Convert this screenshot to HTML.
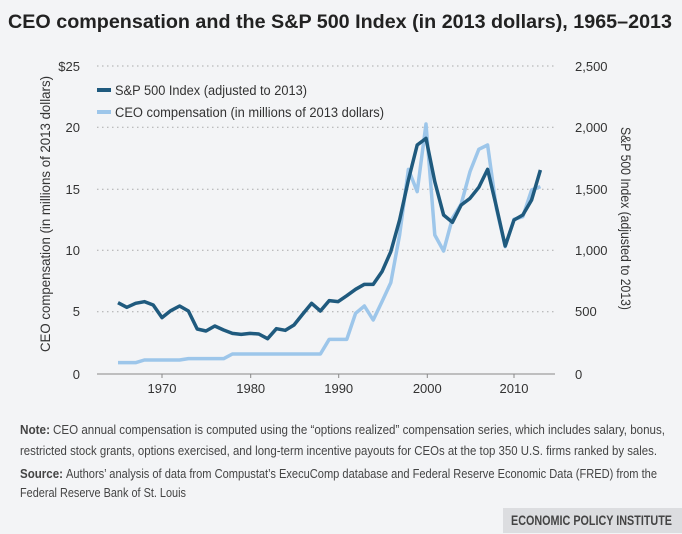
<!DOCTYPE html>
<html><head><meta charset="utf-8"><style>
body{margin:0;width:682px;height:534px;background:#f3f4f6;overflow:hidden;position:relative}
</style></head><body>
<svg width="682" height="534" style="position:absolute;left:0;top:0" font-family="Liberation Sans, sans-serif" font-size="13" fill="#333">
<text x="8" y="28" font-weight="bold" font-size="19" fill="#222" textLength="664" lengthAdjust="spacingAndGlyphs">CEO compensation and the S&amp;P 500 Index (in 2013 dollars), 1965–2013</text>
<g stroke="#aaa" stroke-dasharray="1.5,3.5" stroke-width="1">
<line x1="97" x2="555" y1="66" y2="66"/><line x1="97" x2="555" y1="127.3" y2="127.3"/><line x1="97" x2="555" y1="189.3" y2="189.3"/><line x1="97" x2="555" y1="250.3" y2="250.3"/><line x1="97" x2="555" y1="311.7" y2="311.7"/>
</g>
<line x1="97" x2="555" y1="374" y2="374" stroke="#888"/>
<g stroke="#888"><line x1="162" x2="162" y1="374" y2="378"/><line x1="250.7" x2="250.7" y1="374" y2="378"/><line x1="338.7" x2="338.7" y1="374" y2="378"/><line x1="427.3" x2="427.3" y1="374" y2="378"/><line x1="514" x2="514" y1="374" y2="378"/></g>
<g text-anchor="middle"><text x="162" y="393">1970</text><text x="250.7" y="393">1980</text><text x="338.7" y="393">1990</text><text x="427.3" y="393">2000</text><text x="514" y="393">2010</text></g>
<g text-anchor="end"><text x="80" y="71">$25</text><text x="80" y="132">20</text><text x="80" y="194">15</text><text x="80" y="255">10</text><text x="80" y="316">5</text><text x="80" y="379">0</text></g>
<g text-anchor="start"><text x="575" y="71">2,500</text><text x="575" y="132">2,000</text><text x="575" y="194">1,500</text><text x="575" y="255">1,000</text><text x="575" y="316">500</text><text x="575" y="379">0</text></g>
<text transform="translate(50,352) rotate(-90)" font-size="13.5" textLength="276" lengthAdjust="spacingAndGlyphs">CEO compensation (in millions of 2013 dollars)</text>
<text transform="translate(621,127) rotate(90)" font-size="13.5" textLength="183" lengthAdjust="spacingAndGlyphs">S&amp;P 500 Index (adjusted to 2013)</text>
<rect x="97" y="88" width="14" height="4" fill="#1f5a7e"/><text x="115" y="95" font-size="13.5" textLength="192" lengthAdjust="spacingAndGlyphs">S&amp;P 500 Index (adjusted to 2013)</text>
<rect x="97" y="110" width="14" height="4" fill="#9dc6ea"/><text x="115" y="117" font-size="13.5" textLength="269" lengthAdjust="spacingAndGlyphs">CEO compensation (in millions of 2013 dollars)</text>
<g transform="translate(100,110) scale(0.33333)" fill="none" stroke-width="10.5" stroke-linejoin="round">
<polyline stroke="#9dc6ea" points="54,758 80.4,758 106.8,758 133.2,750 159.6,750 186,750 212.4,750 238.8,750 265.2,746 291.6,746 318,746 344.4,746 370.8,746 397.2,732 423.6,732 450,732 476.4,732 502.8,732 529.2,732 555.6,732 582,732 608.4,732 634.8,732 661.2,732 687.6,688 714,688 740.4,688 766.8,610 793.2,588 819.6,630 846,575 872.4,518 898.8,375 925.2,178 951.6,245 978,42 1004.4,375 1030.8,423 1057.2,325 1083.6,282 1110,185 1136.4,118 1162.8,105 1189.2,295 1215.6,410 1242,328 1268.4,320 1294.8,240 1321.2,230"/>
<polyline stroke="#1f5a7e" points="54,578 80.4,592 106.8,580 133.2,575 159.6,585 186,623 212.4,602 238.8,588 265.2,603 291.6,657 318,663 344.4,648 370.8,660 397.2,670 423.6,673 450,670 476.4,672 502.8,686 529.2,656 555.6,661 582,645 608.4,612 634.8,580 661.2,603 687.6,572 714,575 740.4,557 766.8,538 793.2,523 819.6,523 846,485 872.4,425 898.8,330 925.2,210 951.6,105 978,85 1004.4,215 1030.8,315 1057.2,337 1083.6,285 1110,265 1136.4,232 1162.8,178 1189.2,290 1215.6,408 1242,330 1268.4,315 1294.8,270 1321.2,180"/>
</g>
<g font-size="13" fill="#444">
<text x="20" y="434" font-weight="bold" textLength="30" lengthAdjust="spacingAndGlyphs">Note:</text>
<text x="53" y="434" textLength="612" lengthAdjust="spacingAndGlyphs">CEO annual compensation is computed using the “options realized” compensation series, which includes salary, bonus,</text>
<text x="20" y="455" textLength="637" lengthAdjust="spacingAndGlyphs">restricted stock grants, options exercised, and long-term incentive payouts for CEOs at the top 350 U.S. firms ranked by sales.</text>
<text x="20" y="478" font-weight="bold" textLength="43" lengthAdjust="spacingAndGlyphs">Source:</text>
<text x="66" y="478" textLength="591" lengthAdjust="spacingAndGlyphs">Authors’ analysis of data from Compustat’s ExecuComp database and Federal Reserve Economic Data (FRED) from the</text>
<text x="20" y="497" textLength="166" lengthAdjust="spacingAndGlyphs">Federal Reserve Bank of St. Louis</text>
</g>
<rect x="503" y="508" width="179" height="25" fill="#dcdde0"/>
<text x="511" y="525" font-weight="bold" font-size="13.5" fill="#444" textLength="161" lengthAdjust="spacingAndGlyphs">ECONOMIC POLICY INSTITUTE</text>
</svg>
</body></html>
